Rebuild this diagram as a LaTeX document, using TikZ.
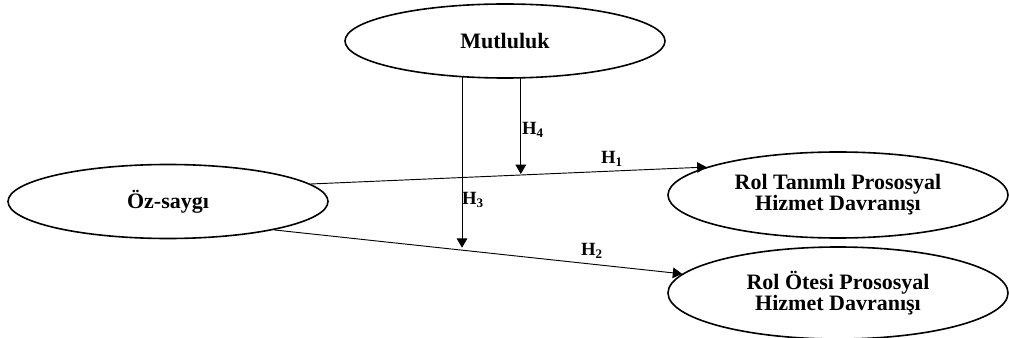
\documentclass[tikz,border=0pt]{standalone}
\usepackage{fontspec}
\setmainfont{Liberation Serif}
\usetikzlibrary{arrows.meta,shapes.geometric,calc}
\tikzset{
  ell/.style={ellipse, draw, line width=1.2pt, inner sep=0pt, align=center,
    font=\fontsize{16.5}{15.8}\selectfont\bfseries},
  arr/.style={line width=0.7pt, -{Triangle[length=7pt,width=8pt]}},
  hlab/.style={font=\fontsize{14}{14}\selectfont\bfseries, inner sep=0pt}
}
\begin{document}
\begin{tikzpicture}[x=0.75pt,y=-0.75pt]
\useasboundingbox (0,0) rectangle (1009,338);
\node[ell, minimum width=240pt, minimum height=55.5pt] (mut) at (505,41) {Mutluluk};
\node[ell, minimum width=240pt, minimum height=55.5pt] (oz) at (168,201.5) {Öz-saygı};
\node[ell, minimum width=255pt, minimum height=64.5pt] (rt) at (838,195) {Rol Tanımlı Prososyal\\Hizmet Davranışı};
\node[ell, minimum width=255pt, minimum height=69pt] (ro) at (838,293) {Rol Ötesi Prososyal\\Hizmet Davranışı};
\draw[arr] (oz.7.5) -- coordinate[pos=0.531] (p4) (rt.168.8);
\draw[arr] (oz.-15.2) -- coordinate[pos=0.4606] (p3) (ro.173.3);
\draw[arr] (mut.south -| p4) ++(0,-0.5) -- ($(p4)+(0,-1)$);
\draw[arr] (mut.south -| p3) ++(0,-1.5) -- ($(p3)+(0,-2.5)$);
\node[hlab] (h1) at (612,159) {H\textsubscript{1}};
\node[hlab] (h2) at (592,251) {H\textsubscript{2}};
\node[hlab] (h3) at (473,200) {H\textsubscript{3}};
\node[hlab] (h4) at (533,130) {H\textsubscript{4}};
\end{tikzpicture}
\end{document}
